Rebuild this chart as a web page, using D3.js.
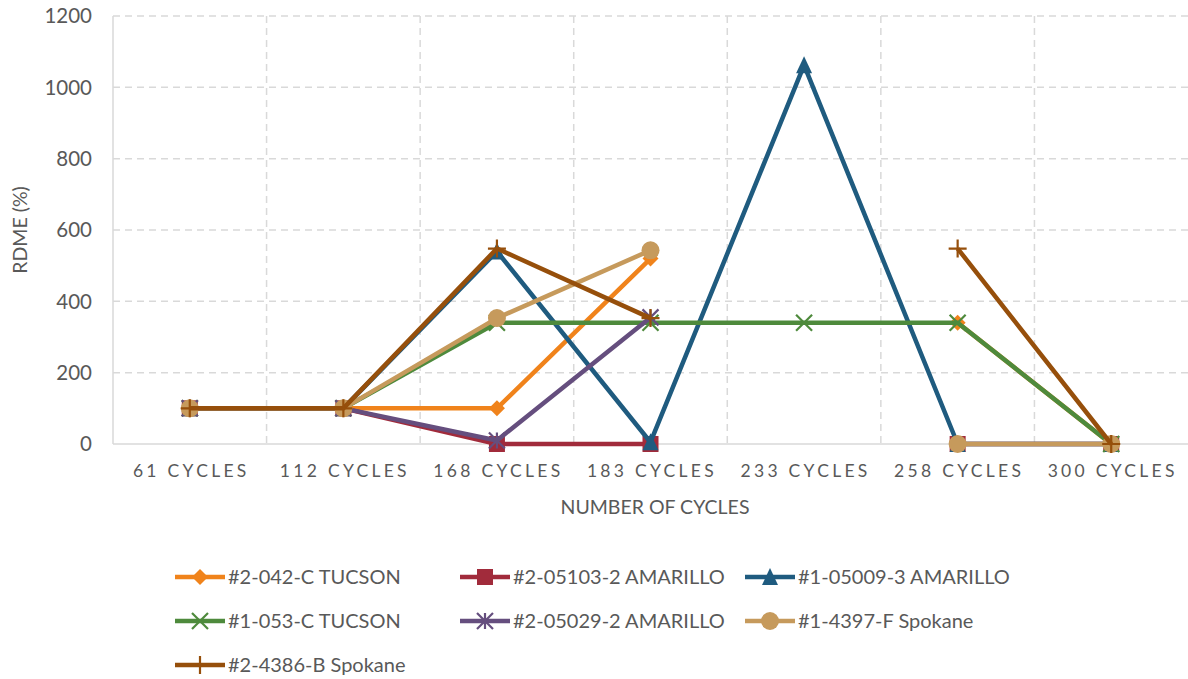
<!DOCTYPE html>
<html>
<head>
<meta charset="utf-8">
<script src="https://cdn.jsdelivr.net/npm/d3@7"></script>
<style>
  body { margin: 0; background: #fff; }
  text { font-family: Lato, "Open Sans", sans-serif; fill: #595959; }
</style>
</head>
<body>
<script>
const categories = ["61 CYCLES", "112 CYCLES", "168 CYCLES", "183 CYCLES", "233 CYCLES", "258 CYCLES", "300 CYCLES"];
const yTicks = [0, 200, 400, 600, 800, 1000, 1200];

const seriesNames = ["#2-042-C TUCSON", "#2-05103-2 AMARILLO", "#1-05009-3 AMARILLO",
                     "#1-053-C TUCSON", "#2-05029-2 AMARILLO", "#1-4397-F Spokane", "#2-4386-B Spokane"];

const tucson042   = [100, 100, 100, 520, null, 340, 0];
const amarillo5103 = [100, 100, 0, 0, null, 0, 0];
const amarillo5009 = [100, 100, 540, 5, 1062, 0, 0];
const tucson053   = [100, 100, 340, 340, 340, 340, 0];
const amarillo5029 = [100, 100, 10, 355, null, null, null];
const spokane4397 = [100, 100, 353, 543, null, 0, 0];
const spokane4386 = [100, 100, 548, 353, null, 548, 0];

const seriesValues = [tucson042, amarillo5103, amarillo5009, tucson053, amarillo5029, spokane4397, spokane4386];
const colors = ["#F0831B", "#A12B3B", "#1F5B7F", "#4E8A3C", "#654E7E", "#C69A5C", "#964F0B"];
const markers = ["diamond", "square", "triangle", "x", "star", "circle", "plus"];

const W = 1188, H = 679;
const mLeft = 113, mRight = 1188, mTop = 16, mBottom = 444;

const svg = d3.select("body").append("svg")
  .attr("width", W).attr("height", H);

const x = d3.scaleBand().domain(categories).range([mLeft, mRight]);
const y = d3.scaleLinear().domain([0, 1200]).range([mBottom, mTop]);

// gridlines
svg.append("g").selectAll("line").data(yTicks.filter(d => d > 0)).enter().append("line")
  .attr("x1", mLeft).attr("x2", mRight)
  .attr("y1", d => y(d)).attr("y2", d => y(d))
  .attr("stroke", "#d9d9d9").attr("stroke-width", 1.5).attr("stroke-dasharray", "7,5");

svg.append("g").selectAll("line").data(categories.slice(1)).enter().append("line")
  .attr("x1", d => x(d)).attr("x2", d => x(d))
  .attr("y1", mTop).attr("y2", mBottom)
  .attr("stroke", "#d9d9d9").attr("stroke-width", 1.5).attr("stroke-dasharray", "7,5");

// axis lines
svg.append("line").attr("x1", mLeft).attr("x2", mLeft).attr("y1", mTop).attr("y2", mBottom)
  .attr("stroke", "#d9d9d9").attr("stroke-width", 1.5);
svg.append("line").attr("x1", mLeft).attr("x2", mRight).attr("y1", mBottom).attr("y2", mBottom)
  .attr("stroke", "#d9d9d9").attr("stroke-width", 1.5);

// y tick labels
svg.append("g").selectAll("text").data(yTicks).enter().append("text")
  .attr("x", 92).attr("y", d => y(d)).attr("dy", "0.35em")
  .attr("text-anchor", "end").attr("font-size", 20.5)
  .text(d => d);

// x tick labels
svg.append("g").selectAll("text").data(categories).enter().append("text")
  .attr("x", d => x(d) + x.bandwidth() / 2 + 1.5).attr("y", 477)
  .attr("text-anchor", "middle").attr("font-size", 17.5)
  .attr("letter-spacing", "3.3px")
  .text(d => d);

// axis titles
svg.append("text").attr("x", 655).attr("y", 514).attr("text-anchor", "middle")
  .attr("font-size", 19.5).text("NUMBER OF CYCLES");
svg.append("text").attr("transform", "translate(27,230) rotate(-90)")
  .attr("text-anchor", "middle").attr("font-size", 19.5).text("RDME (%)");

function drawMarker(g, type, color) {
  const s = 8;
  if (type === "diamond") {
    g.append("path").attr("d", `M0,${-s}L${s},0L0,${s}L${-s},0Z`).attr("fill", color);
  } else if (type === "square") {
    g.append("rect").attr("x", -s).attr("y", -s).attr("width", 2 * s).attr("height", 2 * s).attr("fill", color);
  } else if (type === "triangle") {
    g.append("path").attr("d", `M0,${-s - 1}L${s},${s}L${-s},${s}Z`).attr("fill", color);
  } else if (type === "circle") {
    g.append("circle").attr("r", s + 1).attr("fill", color);
  } else if (type === "x") {
    g.append("path").attr("d", `M${-s},${-s}L${s},${s}M${-s},${s}L${s},${-s}`)
      .attr("stroke", color).attr("stroke-width", 2.2);
  } else if (type === "plus") {
    g.append("path").attr("d", `M${-s - 1},0L${s + 1},0M0,${-s - 1}L0,${s + 1}`)
      .attr("stroke", color).attr("stroke-width", 2.2);
  } else if (type === "star") {
    g.append("path").attr("d", `M${-s},${-s}L${s},${s}M${-s},${s}L${s},${-s}M0,${-s}L0,${s}`)
      .attr("stroke", color).attr("stroke-width", 2.2);
  }
}

const line = d3.line()
  .defined(d => d != null)
  .x((d, i) => x(categories[i]) + x.bandwidth() / 2)
  .y(d => y(d));

seriesValues.forEach((vals, k) => {
  const g = svg.append("g");
  g.append("path").datum(vals).attr("d", line)
    .attr("fill", "none").attr("stroke", colors[k]).attr("stroke-width", 4.5)
    .attr("stroke-linejoin", "round");
  vals.forEach((v, i) => {
    if (v == null) return;
    const m = g.append("g").attr("transform", `translate(${x(categories[i]) + x.bandwidth() / 2},${y(v)})`);
    drawMarker(m, markers[k], colors[k]);
  });
});

// legend
const legX = [175, 460, 745];
const legY = [577, 621, 665];
seriesNames.forEach((name, k) => {
  const lx = legX[k % 3], ly = legY[Math.floor(k / 3)];
  const g = svg.append("g");
  g.append("line").attr("x1", lx).attr("x2", lx + 50).attr("y1", ly).attr("y2", ly)
    .attr("stroke", colors[k]).attr("stroke-width", 4.5);
  const m = g.append("g").attr("transform", `translate(${lx + 25},${ly})`);
  drawMarker(m, markers[k], colors[k]);
  g.append("text").attr("x", lx + 53).attr("y", ly).attr("dy", "0.35em")
    .attr("font-size", 20).text(name);
});
</script>
</body>
</html>
